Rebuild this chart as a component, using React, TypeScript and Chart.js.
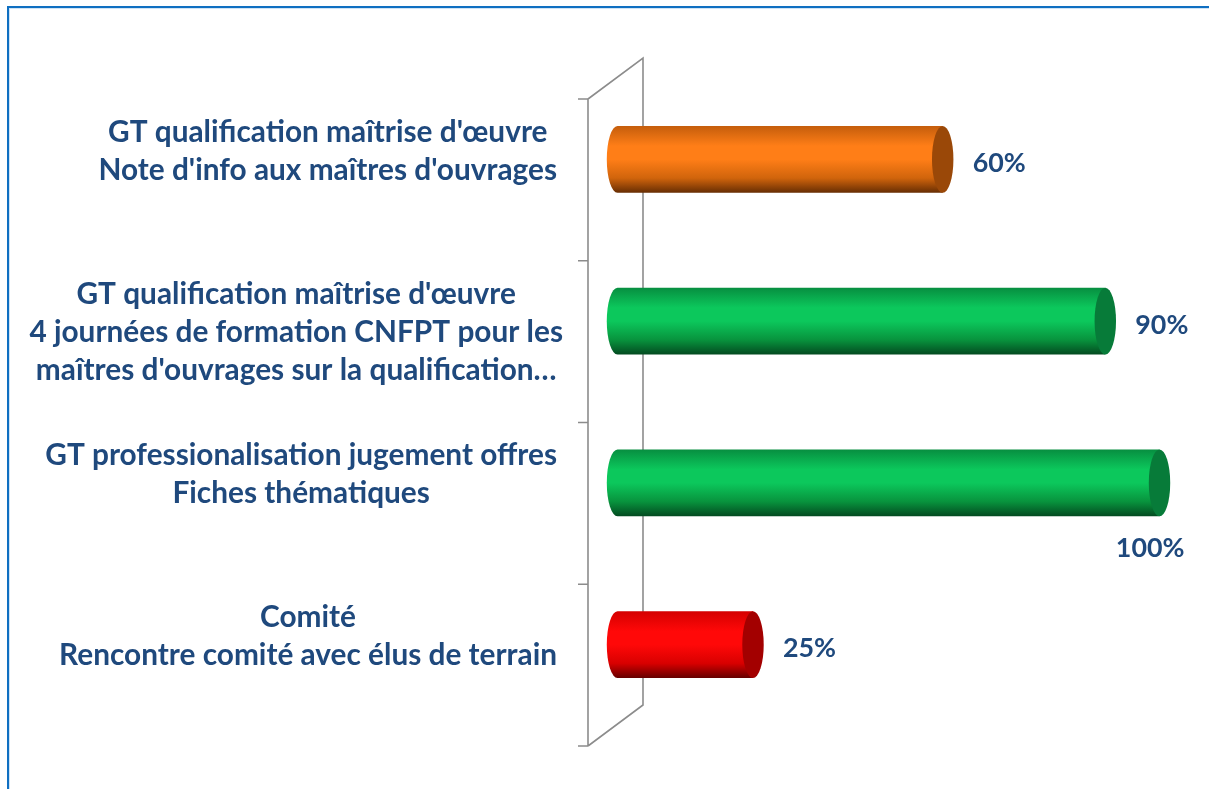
import React, { useEffect, useRef } from "react";
import { Chart, registerables } from "chart.js";

Chart.register(...registerables);

// ---- data ----
const categoryLines: string[][] = [
  ["GT qualification maîtrise d'œuvre", "Note d'info aux maîtres d'ouvrages"],
  [
    "GT qualification maîtrise d'œuvre",
    "4 journées de formation CNFPT pour les",
    "maîtres d'ouvrages sur la qualification…",
  ],
  ["GT professionalisation jugement offres", "Fiches thématiques"],
  ["Comité", "Rencontre comité avec élus de terrain"],
];
const progressValues: number[] = [60, 90, 100, 25];
const valueLabels: string[] = ["60%", "90%", "100%", "25%"];
const barColorKeys: string[] = ["orange", "green", "green", "red"];

// ---- styles ----
const PALETTE: Record<string, { top: string; mid: string; low: string; bottom: string; cap: string }> = {
  orange: { top: "#C45D0C", mid: "#FF7E17", low: "#D0640C", bottom: "#662D03", cap: "#9A4808" },
  green: { top: "#078E40", mid: "#0CC85C", low: "#08933D", bottom: "#034A20", cap: "#077B39" },
  red: { top: "#D40000", mid: "#FF0808", low: "#D80000", bottom: "#650000", cap: "#A30000" },
};
const TEXT_COLOR = "#1F497D";
const FONT_FAMILY = "Lato, 'Open Sans', sans-serif";

const cylinderPlugin = {
  id: "cylinders",
  beforeDatasetsDraw(chart: any) {
    const ctx = chart.ctx;
    const { left, top, bottom } = chart.chartArea;
    const n = categoryLines.length;
    const band = (bottom - top) / n;
    const fx = left - 29.5;
    const fy0 = top + 20.5;
    const fy1 = bottom + 20.5;
    const dx = 55;
    const dy = -41;
    ctx.save();
    ctx.strokeStyle = "#8C8C8C";
    ctx.lineWidth = 1.6;
    ctx.beginPath();
    ctx.moveTo(fx, fy0);
    ctx.lineTo(fx, fy1);
    for (let k = 0; k <= n; k++) {
      const yy = fy0 + k * band;
      ctx.moveTo(fx - 10, yy);
      ctx.lineTo(fx, yy);
    }
    ctx.moveTo(fx, fy0);
    ctx.lineTo(fx + dx, fy0 + dy);
    ctx.lineTo(fx + dx, fy1 + dy);
    ctx.lineTo(fx, fy1);
    ctx.stroke();
    ctx.restore();
  },
  afterDatasetsDraw(chart: any) {
    const ctx = chart.ctx;
    const meta = chart.getDatasetMeta(0);
    meta.data.forEach((el: any, i: number) => {
      const { x, y, base, height } = el.getProps(["x", "y", "base", "height"], true);
      const h = height;
      const ry = h / 2;
      const rx = h * 0.16;
      const pal = PALETTE[barColorKeys[i]];
      const g = ctx.createLinearGradient(0, y - ry, 0, y + ry);
      g.addColorStop(0, pal.top);
      g.addColorStop(0.3, pal.mid);
      g.addColorStop(0.5, pal.mid);
      g.addColorStop(0.78, pal.low);
      g.addColorStop(1, pal.bottom);
      ctx.save();
      ctx.beginPath();
      ctx.moveTo(base, y - ry);
      ctx.lineTo(x, y - ry);
      ctx.lineTo(x, y + ry);
      ctx.lineTo(base, y + ry);
      ctx.ellipse(base, y, rx, ry, 0, Math.PI / 2, (Math.PI * 3) / 2, false);
      ctx.closePath();
      ctx.fillStyle = g;
      ctx.fill();
      ctx.beginPath();
      ctx.ellipse(x, y, rx, ry, 0, 0, Math.PI * 2);
      ctx.fillStyle = pal.cap;
      ctx.fill();
      ctx.restore();
    });
  },
  afterDraw(chart: any) {
    const ctx = chart.ctx;
    const meta = chart.getDatasetMeta(0);
    ctx.save();
    ctx.font = `700 30px ${FONT_FAMILY}`;
    const refW = ctx.measureText("Rencontre comité avec élus de terrain").width;
    const size = Math.max(18, Math.min(32, (30 * 498) / refW));
    ctx.font = `700 ${size}px ${FONT_FAMILY}`;
    ctx.fillStyle = TEXT_COLOR;
    ctx.textBaseline = "middle";
    ctx.textAlign = "center";
    const rightEdge = 557;
    const lineH = 38;
    meta.data.forEach((el: any, i: number) => {
      const { y } = el.getProps(["y"], true);
      const lines = categoryLines[i];
      const maxW = Math.max(...lines.map((l) => ctx.measureText(l).width));
      const cx = rightEdge - maxW / 2 + (lines.length > 2 ? 6 : 0);
      lines.forEach((l, j) => {
        ctx.fillText(l, cx, y - 27 + j * lineH);
      });
    });
    // value labels
    ctx.font = `700 ${size * 0.9}px ${FONT_FAMILY}`;
    const limit = chart.width - 4;
    meta.data.forEach((el: any, i: number) => {
      const { x, y, height } = el.getProps(["x", "y", "height"], true);
      const txt = valueLabels[i];
      const w = ctx.measureText(txt).width;
      const lx = x + 30;
      if (lx + w > limit) {
        ctx.textAlign = "right";
        ctx.fillText(txt, x + 25, y + height / 2 + 32);
      } else {
        ctx.textAlign = "left";
        ctx.fillText(txt, lx, y + 4);
      }
    });
    ctx.restore();
  },
};

export default function App() {
  const canvasRef = useRef<HTMLCanvasElement | null>(null);

  useEffect(() => {
    const canvas = canvasRef.current;
    if (!canvas) return;
    const chart = new Chart(canvas, {
      type: "bar",
      data: {
        labels: categoryLines.map((l) => l.join(" ")),
        datasets: [
          {
            data: progressValues,
            backgroundColor: "rgba(0,0,0,0)",
            borderWidth: 0,
            barPercentage: 0.414,
            categoryPercentage: 1,
          },
        ],
      },
      options: {
        indexAxis: "y",
        responsive: false,
        animation: false,
        devicePixelRatio: 1,
        layout: { padding: { left: 617.5, right: 49.5, top: 78.5, bottom: 63.5 } },
        scales: {
          x: { type: "linear", min: 0, max: 100, display: false },
          y: { type: "category", display: false, offset: true },
        },
        plugins: {
          legend: { display: false },
          tooltip: { enabled: false },
          title: { display: false },
        },
      },
      plugins: [cylinderPlugin],
    });
    return () => chart.destroy();
  }, []);

  return (
    <div
      style={{
        position: "absolute",
        left: 0,
        top: 0,
        width: 1209,
        height: 789,
        overflow: "hidden",
        background: "#ffffff",
      }}
    >
      <div
        style={{
          position: "absolute",
          left: 7,
          top: 6,
          width: 1260,
          height: 840,
          borderLeft: "2px solid #0F6FC1",
          borderTop: "2px solid #0F6FC1",
          boxShadow: "inset 1px 1px 0 #CFE3F5",
        }}
      />
      <canvas
        ref={canvasRef}
        width={1209}
        height={789}
        style={{ position: "absolute", left: 0, top: 0, width: 1209, height: 789, display: "block" }}
      />
    </div>
  );
}
